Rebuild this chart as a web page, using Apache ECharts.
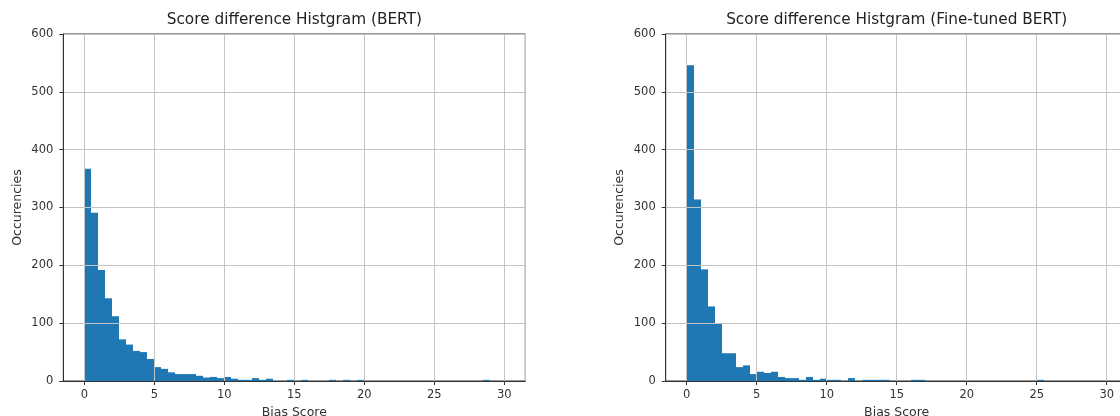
<!DOCTYPE html>
<html><head><meta charset="utf-8">
<script src="https://cdn.jsdelivr.net/npm/echarts@6/dist/echarts.min.js"></script>
<style>html,body{margin:0;padding:0;background:#fff;} #c{width:1120px;height:416px;}</style>
</head><body><div id="c"></div>
<script>
// Histogram bins: 60 bins of width 0.5 covering 0..30
const binStart = 0;
const binWidth = 0.5;
const bertCounts = [367,291,192,143,112,72,63,52,50,38,
                    24,21,15,12,12,12,9,6,7,5,
                    7,4,2,2,5,2,4,0,0,2,
                    0,2,0,0,0,2,0,2,0,2,
                    0,0,0,0,0,0,0,0,0,0,
                    0,0,0,0,0,0,0,2,0,0];
const ftCounts   = [546,314,193,129,99,48,48,24,27,12,
                    16,14,16,7,5,5,2,7,2,4,
                    2,2,0,5,0,2,2,2,2,0,
                    0,0,2,2,0,0,0,0,0,0,
                    0,0,0,0,0,0,0,0,0,0,
                    2,0,0,0,0,0,0,0,0,0];
const titles = ['Score difference Histgram (BERT)', 'Score difference Histgram (Fine-tuned BERT)'];
const xName = 'Bias Score';
const yName = 'Occurencies';
const xTickLabels = [0,5,10,15,20,25,30];
const yTickLabels = [0,100,200,300,400,500,600];

const X_MIN = -1.5, X_MAX = 31.5, Y_MIN = 0, Y_MAX = 600;
const FONT = 'DejaVu Sans';
const grids = [
  {left: 63.3, top: 34, width: 462, height: 347},
  {left: 665.7, top: 34, width: 462, height: 347}
];

function toBins(counts) {
  const out = [];
  counts.forEach((c, i) => {
    if (c > 0) out.push([binStart + i * binWidth, binStart + (i + 1) * binWidth, c]);
  });
  return out;
}

const chart = echarts.init(document.getElementById('c'), null, {renderer: 'canvas'});

function xAxis(gi) {
  return {
    type: 'value', gridIndex: gi, min: X_MIN, max: X_MAX, splitNumber: 7, z: 5,
    name: xName, nameLocation: 'middle', nameGap: 24,
    nameTextStyle: {fontFamily: FONT, fontSize: 12.5, color: '#333'},
    axisLine: {show: true, onZero: false, lineStyle: {color: '#333', width: 1}},
    axisTick: {show: true, length: 4, lineStyle: {color: '#333'}},
    axisLabel: {show: true, margin: 8, fontFamily: FONT, fontSize: 11.5, color: '#333',
      showMinLabel: false, showMaxLabel: false,
      formatter: v => (xTickLabels.indexOf(v) >= 0 ? String(v) : '')},
    splitLine: {show: true, lineStyle: {color: '#c4c4c4', width: 1}}
  };
}
function yAxis(gi) {
  return {
    type: 'value', gridIndex: gi, min: Y_MIN, max: Y_MAX, interval: 100, z: 5,
    name: yName, nameLocation: 'middle', nameGap: 39, nameRotate: 90,
    nameTextStyle: {fontFamily: FONT, fontSize: 12.5, color: '#333'},
    axisLine: {show: true, onZero: false, lineStyle: {color: '#333', width: 1}},
    axisTick: {show: true, length: 4, lineStyle: {color: '#333'}},
    axisLabel: {show: true, margin: 10, fontFamily: FONT, fontSize: 11.5, color: '#333',
      formatter: v => (yTickLabels.indexOf(v) >= 0 ? String(v) : '')},
    splitLine: {show: true, lineStyle: {color: '#c4c4c4', width: 1}}
  };
}

function histSeries(gi, counts) {
  return {
    type: 'custom', xAxisIndex: gi, yAxisIndex: gi, z: 2,
    data: toBins(counts),
    encode: {x: [0, 1], y: 2},
    renderItem: (params, api) => {
      const p0 = api.coord([api.value(0), api.value(2)]);
      const p1 = api.coord([api.value(1), 0]);
      const x0 = Math.round(p0[0]), x1 = Math.round(p1[0]);
      return {type: 'rect', shape: {x: x0, y: p0[1], width: x1 - x0, height: p1[1] - p0[1]},
        style: {fill: '#1f77b4'}};
    }
  };
}

chart.setOption({
  animation: false,
  backgroundColor: '#fff',
  grid: grids.map(g => Object.assign({show: true, borderColor: '#333', borderWidth: 1, backgroundColor: '#fff',
    containLabel: false, outerBoundsMode: 'none'}, g)),
  xAxis: [xAxis(0), xAxis(1)],
  yAxis: [yAxis(0), yAxis(1)],
  series: [histSeries(0, bertCounts), histSeries(1, ftCounts)],
  graphic: grids.map((g, i) => ({
    type: 'text', x: g.left + g.width / 2, y: 20,
    style: {text: titles[i], fontFamily: FONT, fontSize: 15.3, fill: '#222', textAlign: 'center', textVerticalAlign: 'middle'}
  }))
});
</script></body></html>
